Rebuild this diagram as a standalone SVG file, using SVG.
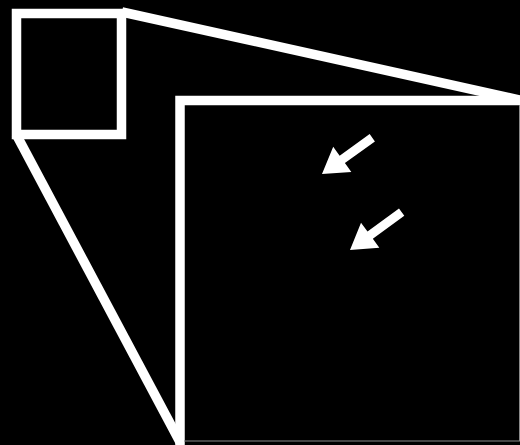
<svg xmlns="http://www.w3.org/2000/svg" width="520" height="445" viewBox="0 0 520 445">
<defs>
<style>
.w{fill:none;stroke:#fff;stroke-width:9.5;stroke-linejoin:miter}
.edge{stroke:#8a8a8a;stroke-width:1}
.arr{fill:#fff}
</style>
</defs>
<rect x="0" y="0" width="520" height="445" fill="#000"/>
<g id="connectors">
<line class="w" x1="122" y1="12" x2="520" y2="100"/>
<line class="w" x1="16" y1="134" x2="180" y2="442"/>
</g>
<g id="zoom-source">
<rect class="w" x="16.5" y="13.5" width="105" height="121"/>
</g>
<g id="zoom-view">
<rect x="180" y="100.5" width="340" height="341" fill="#000"/>
<path class="w" d="M180,445 L180,100.5 L520,100.5"/>
<line class="edge" x1="184" y1="441" x2="520" y2="441"/>
<line class="edge" x1="519.5" y1="105" x2="519.5" y2="441"/>
</g>
<g id="arrow1">
<polygon class="arr" transform="translate(322,174) rotate(144.2)" points="0,0 -25,-15.5 -25,-4.5 -62,-4.5 -62,4.5 -25,4.5 -25,15.5"/>
</g>
<g id="arrow2">
<polygon class="arr" transform="translate(350,250) rotate(143.8)" points="0,0 -25,-15.5 -25,-4.5 -64,-4.5 -64,4.5 -25,4.5 -25,15.5"/>
</g>
</svg>
